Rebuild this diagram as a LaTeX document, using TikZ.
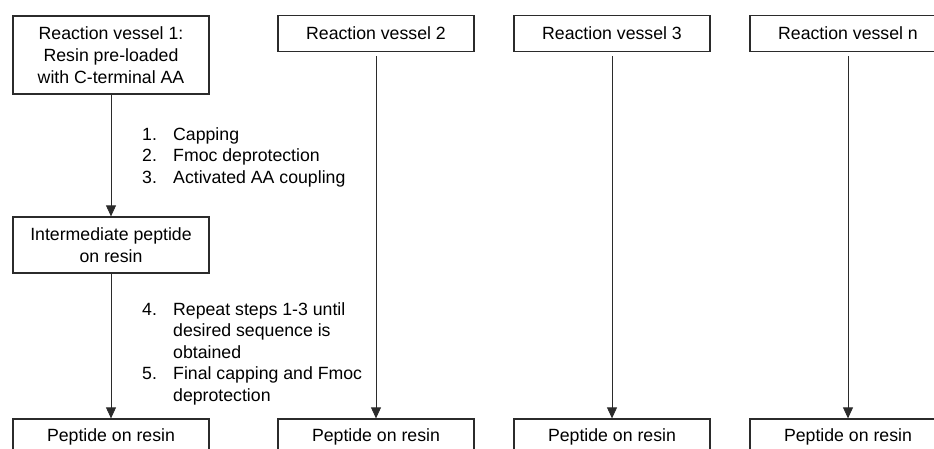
\documentclass[tikz,border=0pt]{standalone}
\usepackage{fontspec}
\setmainfont{Liberation Sans}
\usepackage{tikz}
\usetikzlibrary{arrows.meta,positioning}
\definecolor{boxline}{HTML}{2B2B2B}
\tikzset{
  vesselbox/.style={draw=boxline,line width=1.3pt,minimum width=196pt,minimum height=36pt,
    inner sep=2pt,align=center,font=\fontsize{17.7}{22}\selectfont},
  flowarrow/.style={line width=0.8pt,draw=boxline,-{Triangle[width=10pt,length=11pt]}},
  stepstext/.style={inner sep=0pt,anchor=north west,font=\fontsize{17.7}{21.5}\selectfont}
}

\begin{document}
\begin{tikzpicture}[x=1pt,y=-1pt]
    \useasboundingbox (0,0) rectangle (934,448);
    \clip (0,0) rectangle (934,448);
    \node[vesselbox,minimum height=78pt] (vesA) at (111,55) {Reaction vessel 1:\\Resin pre-loaded\\with C-terminal AA};
    \node[vesselbox] (vesB) at (376,33.5) {Reaction vessel 2};
    \node[vesselbox] (vesC) at (612,33.5) {Reaction vessel 3};
    \node[vesselbox] (vesN) at (848,33.5) {Reaction vessel n};
    \node[vesselbox,minimum height=56pt] (inter) at (111,245) {Intermediate peptide\\on resin};
    \node[vesselbox] (pepA) at (111,437) {Peptide on resin};
    \node[vesselbox] (pepB) at (376,437) {Peptide on resin};
    \node[vesselbox] (pepC) at (612,437) {Peptide on resin};
    \node[vesselbox] (pepN) at (848,437) {Peptide on resin};
    \draw[flowarrow] (vesA) -- (inter);
    \draw[flowarrow] (inter) -- (pepA);
    \foreach \col in {B,C,N}
        \draw[flowarrow,shorten <=4pt] (ves\col) -- (pep\col);
    \node[stepstext] (stepsA) at (142,125) {\begin{tabular}{@{}p{31pt}@{}l@{}}
        1. & Capping\\
        2. & Fmoc deprotection\\
        3. & Activated AA coupling
    \end{tabular}};
    \node[stepstext] (stepsB) at (142,300) {\begin{tabular}{@{}p{31pt}@{}l@{}}
        4. & Repeat steps 1-3 until\\
           & desired sequence is\\
           & obtained\\
        5. & Final capping and Fmoc\\
           & deprotection
    \end{tabular}};
\end{tikzpicture}
\end{document}
